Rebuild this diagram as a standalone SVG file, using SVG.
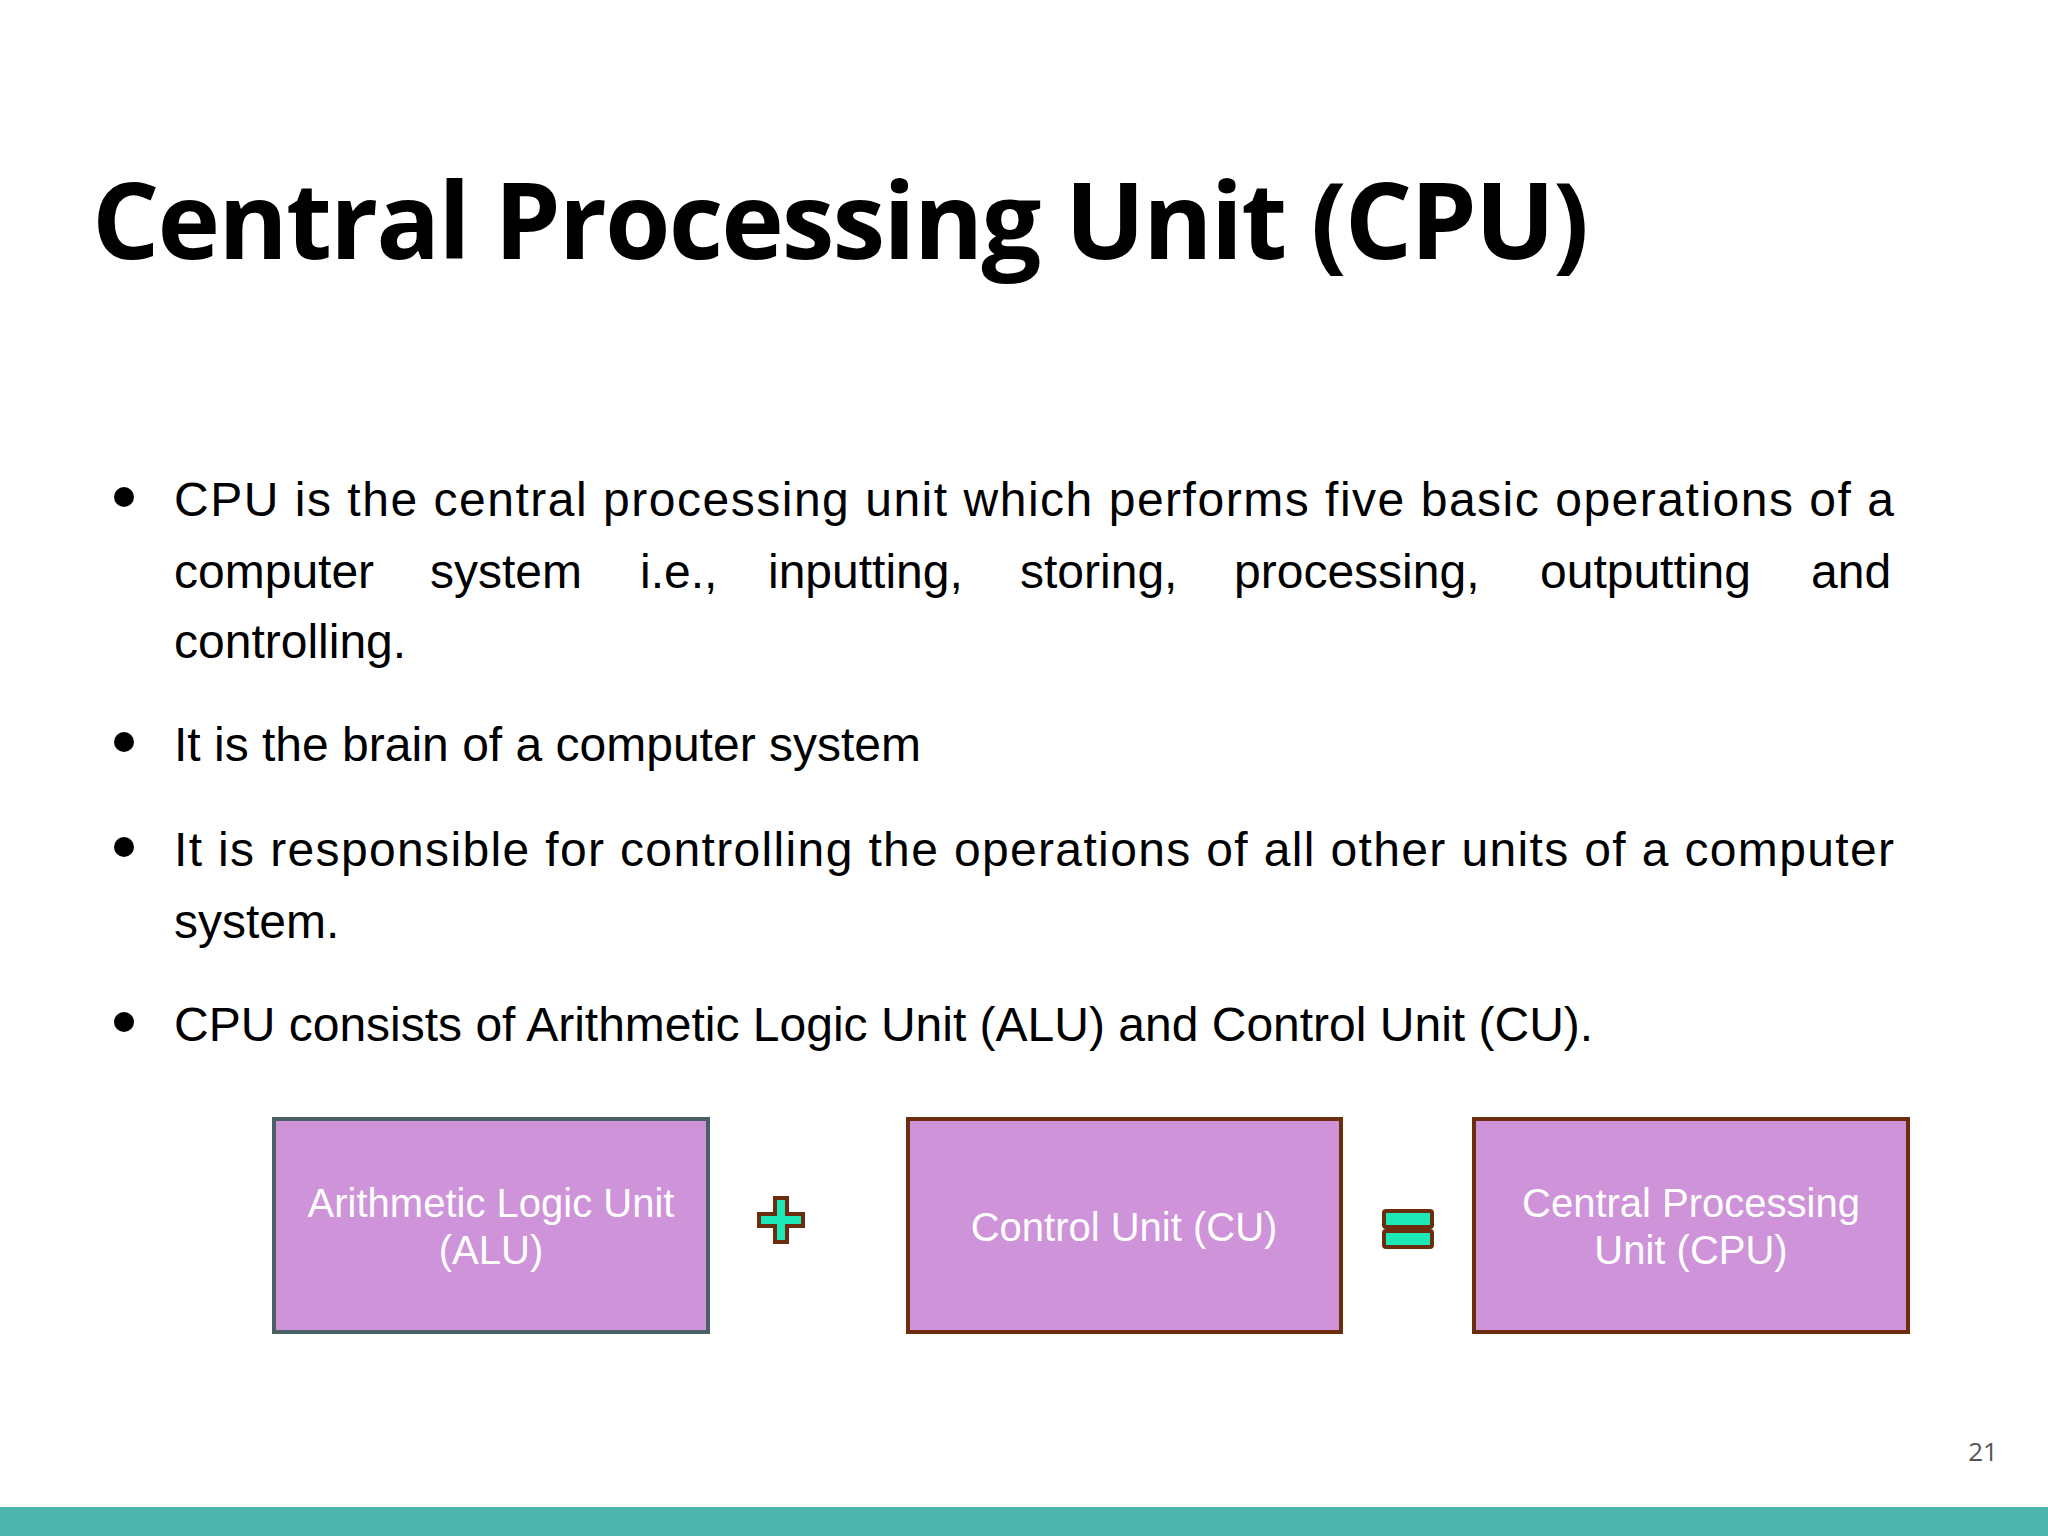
<svg xmlns="http://www.w3.org/2000/svg" width="2048" height="1536" viewBox="0 0 2048 1536">
<style>
.b{font-family:"Liberation Sans",Arial,sans-serif;font-size:48px;fill:#000}
.n{font-family:"Liberation Sans",Arial,sans-serif;font-size:40px;fill:#fff;text-anchor:middle}
.box{fill:#ce93d8;stroke:#6b2d0e;stroke-width:4}
.sym{fill:#1de9b6;stroke:#6b2d0e;stroke-width:4}
</style>
<rect width="2048" height="1536" fill="#fff"/>
<text x="92" y="259" font-family="'Open Sans','Noto Sans',sans-serif" font-weight="bold" font-size="106" textLength="1497" fill="#000">Central Processing Unit (CPU)</text>
<g id="bullets">
<circle cx="124" cy="497" r="10"/><circle cx="124" cy="742" r="10"/><circle cx="124" cy="847" r="10"/><circle cx="124" cy="1022" r="10"/>
<text class="b" x="174" y="516" textLength="1720" lengthAdjust="spacing">CPU is the central processing unit which performs five basic operations of a</text>
<text class="b" y="588"><tspan x="174">computer</tspan><tspan x="430">system</tspan><tspan x="640">i.e.,</tspan><tspan x="768">inputting,</tspan><tspan x="1020">storing,</tspan><tspan x="1234">processing,</tspan><tspan x="1540">outputting</tspan><tspan x="1811">and</tspan></text>
<text class="b" x="174" y="658">controlling.</text>
<text class="b" x="174" y="761">It is the brain of a computer system</text>
<text class="b" x="174" y="866" textLength="1720" lengthAdjust="spacing">It is responsible for controlling the operations of all other units of a computer</text>
<text class="b" x="174" y="938">system.</text>
<text class="b" x="174" y="1041">CPU consists of Arithmetic Logic Unit (ALU) and Control Unit (CU).</text>
</g>
<g id="alu"><rect class="box" x="274" y="1119" width="434" height="213" stroke="#45606a" style="stroke:#4a6066"/><text class="n" x="491" y="1217">Arithmetic Logic Unit</text><text class="n" x="491" y="1264">(ALU)</text></g>
<g id="plus"><path class="sym" d="M775,1198h12v16h16v12h-16v16h-12v-16h-16v-12h16z"/></g>
<g id="cu"><rect class="box" x="908" y="1119" width="433" height="213"/><text class="n" x="1124" y="1241">Control Unit (CU)</text></g>
<g id="equals"><rect class="sym" x="1384" y="1211" width="48" height="16" rx="2"/><rect class="sym" x="1384" y="1231" width="48" height="16" rx="2"/></g>
<g id="cpu"><rect class="box" x="1474" y="1119" width="434" height="213"/><text class="n" x="1691" y="1217">Central Processing</text><text class="n" x="1691" y="1264">Unit (CPU)</text></g>
<g id="connectors"/>
<text x="1983" y="1461" font-family="'Open Sans','Noto Sans',sans-serif" font-size="26" fill="#555" text-anchor="middle">21</text>
<rect x="0" y="1507" width="2048" height="29" fill="#4db6ac"/>
</svg>
